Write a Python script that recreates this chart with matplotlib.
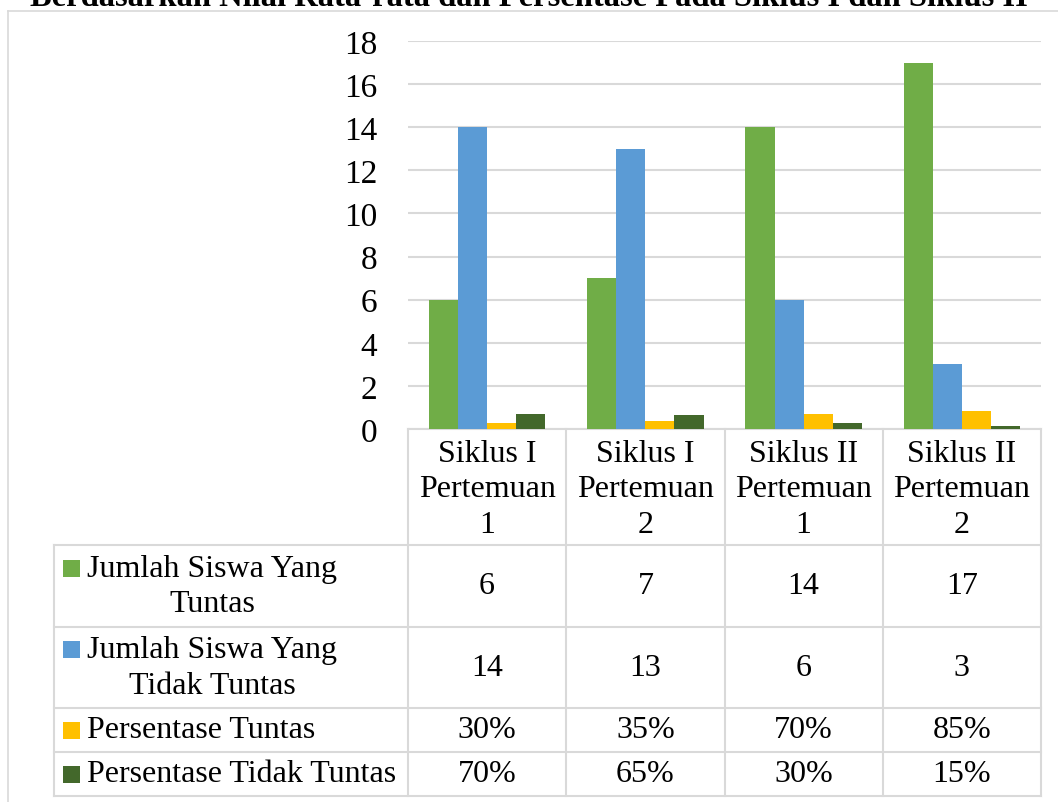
import matplotlib.pyplot as plt
from matplotlib.patches import Rectangle

plt.rcParams['font.family'] = ['Liberation Serif', 'DejaVu Serif']

# data
categories = ['Siklus I\nPertemuan\n1', 'Siklus I\nPertemuan\n2',
              'Siklus II\nPertemuan\n1', 'Siklus II\nPertemuan\n2']
series_names = ['Jumlah Siswa Yang\nTuntas', 'Jumlah Siswa Yang\nTidak Tuntas',
                'Persentase Tuntas', 'Persentase Tidak Tuntas']
tuntas = [6, 7, 14, 17]
tidak_tuntas = [14, 13, 6, 3]
pct_tuntas = [0.30, 0.35, 0.70, 0.85]
pct_tidak_tuntas = [0.70, 0.65, 0.30, 0.15]
colors = ['#70AD47', '#5B9BD5', '#FFC000', '#43682B']
title = 'Berdasarkan Nilai Rata-rata dan Persentase Pada Siklus I dan Siklus II'

series = [tuntas, tidak_tuntas, pct_tuntas, pct_tidak_tuntas]
labels_fmt = [lambda v: f'{v}', lambda v: f'{v}',
              lambda v: f'{round(v * 100)}%', lambda v: f'{round(v * 100)}%']

W, H = 1058, 803
fig = plt.figure(figsize=(W / 100, H / 100), dpi=100)

# layout in pixels
x_left, x_right = 408, 1041
y_top, y_zero = 42, 430
row_edges = [430, 546, 628, 709, 753, 797]
label_left = 54
grid_col = '#d9d9d9'
fs = 23

# background overlay axes in pixel coords (table + border)
tab = fig.add_axes([0, 0, 1, 1])
tab.set_xlim(0, W)
tab.set_ylim(H, 0)
tab.axis('off')

# bar axes
ax = fig.add_axes([x_left / W, 1 - y_zero / H, (x_right - x_left) / W, (y_zero - y_top) / H])
n = len(categories)
bw = 0.184
for i, (vals, c) in enumerate(zip(series, colors)):
    xs = [k + (i - 1.5) * bw for k in range(n)]
    ax.bar(xs, vals, width=bw, color=c, zorder=3)
ax.set_xlim(-0.5, n - 0.5)
ax.set_ylim(0, 18)
ax.set_yticks(range(0, 19, 2))
ax.set_xticks([])
ax.tick_params(axis='y', length=0, labelsize=24, pad=22)
ax.yaxis.grid(True, color=grid_col, lw=1.5, zorder=0)
for s in ax.spines.values():
    s.set_visible(False)
ax.patch.set_alpha(0)

# outer chart border
tab.plot([8, W + 5], [12, 12], color=grid_col, lw=1.2)
tab.plot([8, 8], [12, H + 5], color=grid_col, lw=1.2)

# title (partially cut off at top, as in the source)
fig.text(0.5, 1 - 6 / H, title, ha='center', va='baseline',
         fontsize=23.5, fontweight='bold')

# table grid
col_w = (x_right - x_left) / n
col_edges = [x_left + k * col_w for k in range(n + 1)]
lw = 1.5
for y in row_edges[1:]:
    tab.plot([label_left, x_right], [y, y], color=grid_col, lw=lw)
tab.plot([x_left, x_right], [row_edges[0], row_edges[0]], color=grid_col, lw=lw)
tab.plot([label_left, label_left], [row_edges[1], row_edges[-1]], color=grid_col, lw=lw)
for x in col_edges:
    tab.plot([x, x], [row_edges[0], row_edges[-1]], color=grid_col, lw=lw)

# header cells
for k, cat in enumerate(categories):
    cx = (col_edges[k] + col_edges[k + 1]) / 2
    tab.text(cx, (row_edges[0] + row_edges[1]) / 2 + 2, cat, ha='center', va='center',
             fontsize=fs, linespacing=1.3)

# data rows
for r, (name, vals, c, fmt) in enumerate(zip(series_names, series, colors, labels_fmt)):
    y0, y1 = row_edges[r + 1], row_edges[r + 2]
    cy = (y0 + y1) / 2
    nlines = name.count('\n') + 1
    sq_cy = cy - 18 * (nlines - 1)
    tab.add_patch(Rectangle((63, sq_cy - 8.5), 17, 17, color=c, lw=0))
    tab.text(87, cy, name, ha='left', va='center', multialignment='center',
             fontsize=fs, linespacing=1.3)
    for k, v in enumerate(vals):
        cx = (col_edges[k] + col_edges[k + 1]) / 2
        tab.text(cx, cy, fmt(v), ha='center', va='center', fontsize=fs)

fig.savefig('out.png', dpi=100)
